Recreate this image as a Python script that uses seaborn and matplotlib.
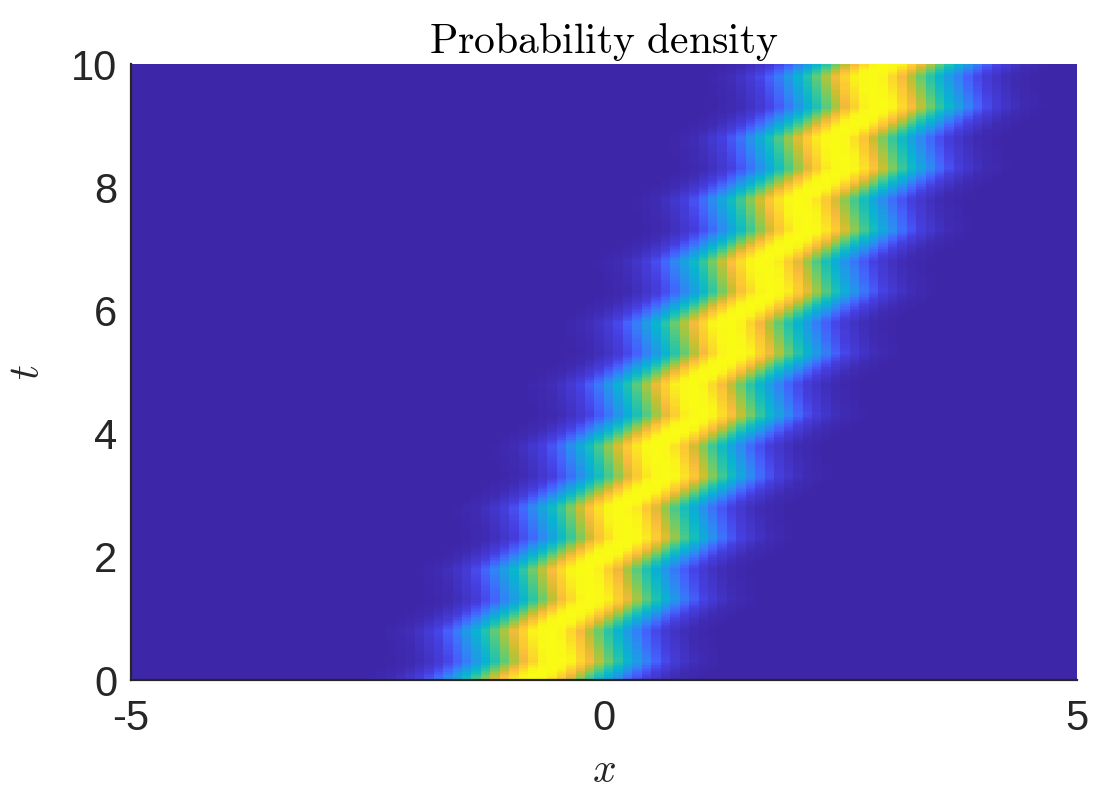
import numpy as np
import pandas as pd
import matplotlib
matplotlib.use("Agg")
import matplotlib.pyplot as plt
from matplotlib.colors import LinearSegmentedColormap
import seaborn as sns

# --- data ---
# grid: 100 columns in x (-5..5), fine steps in t (0..10)
x_min, x_max, n_x = -5.0, 5.0, 100
t_min, t_max, n_t = 0.0, 10.0, 400

# centre of the packet at the corners of the zig-zag path
path_t = [0.0, 0.3, 0.8, 1.3, 1.8, 2.3, 2.8, 3.3, 3.8, 4.3, 4.8,
          5.3, 5.8, 6.3, 6.8, 7.3, 7.8, 8.3, 8.8, 9.3, 9.8, 10.0]
path_x = [-0.78, -0.49, -0.60, -0.11, -0.22, 0.27, 0.16, 0.65, 0.54, 1.03, 0.91,
          1.40, 1.29, 1.78, 1.67, 2.16, 2.05, 2.54, 2.43, 2.92, 2.80, 3.00]

# cross section of the density (relative to colour limit) vs distance from centre
profile_dx = [0.0, 0.15, 0.3, 0.4, 0.5, 0.6, 0.7, 0.8, 0.9, 1.0, 1.1, 1.2, 1.35, 1.5, 1.8]
profile_val = [1.0, 0.99, 0.93, 0.84, 0.72, 0.60, 0.48, 0.37, 0.28, 0.20, 0.14, 0.09, 0.05, 0.02, 0.0]

xticks = [-5, 0, 5]
tticks = [0, 2, 4, 6, 8, 10]

# parula-like colormap
parula = LinearSegmentedColormap.from_list("parula", [
    (0.00, (0.2422, 0.1504, 0.6603)),
    (0.10, (0.2747, 0.2526, 0.8918)),
    (0.17, (0.2692, 0.3778, 0.9899)),
    (0.25, (0.1938, 0.5167, 0.9639)),
    (0.33, (0.1150, 0.6145, 0.8900)),
    (0.42, (0.0340, 0.7000, 0.8200)),
    (0.50, (0.0900, 0.7460, 0.7280)),
    (0.58, (0.2100, 0.7790, 0.6100)),
    (0.67, (0.4100, 0.7980, 0.4300)),
    (0.75, (0.6200, 0.7800, 0.2700)),
    (0.83, (0.8100, 0.7450, 0.1800)),
    (0.89, (0.9700, 0.7300, 0.2400)),
    (0.94, (0.9900, 0.8000, 0.1950)),
    (1.00, (0.9769, 0.9839, 0.0805)),
])

# build the density table
x_cells = x_min + (np.arange(n_x) + 0.5) * (x_max - x_min) / n_x
t_cells = t_min + (np.arange(n_t) + 0.5) * (t_max - t_min) / n_t
centre = np.interp(t_cells, path_t, path_x)
dist = np.abs(x_cells[None, :] - centre[:, None])
dens = np.interp(dist, profile_dx, profile_val)
df = pd.DataFrame(dens, index=np.round(t_cells, 3), columns=np.round(x_cells, 3))

sns.set_theme(style="white")
plt.rcParams["font.family"] = ["Liberation Sans", "DejaVu Sans"]
plt.rcParams["mathtext.fontset"] = "cm"

fig = plt.figure(figsize=(11, 8), dpi=100)
ax = fig.add_axes([0.119, 0.15, 0.86, 0.77])
sns.heatmap(df, ax=ax, cmap=parula, vmin=0, vmax=1, cbar=False,
            xticklabels=False, yticklabels=False, rasterized=True)
ax.invert_yaxis()
ax.set_axisbelow(True)  # image hides the inner ticks, like the original

ax.set_xticks([(v - x_min) / (x_max - x_min) * n_x for v in xticks])
ax.set_xticklabels([str(v) for v in xticks])
ax.set_yticks([(v - t_min) / (t_max - t_min) * n_t for v in tticks])
ax.set_yticklabels([str(v) for v in tticks], rotation=0)

for side in ["left", "bottom"]:
    ax.spines[side].set_visible(True)
    ax.spines[side].set_color("#262626")
    ax.spines[side].set_linewidth(1.6)
for side in ["top", "right"]:
    ax.spines[side].set_visible(False)

ax.tick_params(axis="both", direction="in", length=10, width=2.5, color="#262626",
               labelsize=30, labelcolor="#262626")
ax.tick_params(axis="x", pad=14)
ax.tick_params(axis="y", pad=10)

ax.set_title(r"$\mathrm{Probability\ density}$", fontsize=30, color="black", pad=8)
ax.set_xlabel(r"$x$", fontsize=30, color="#262626", labelpad=8)
ax.set_ylabel(r"$t$", fontsize=30, color="#262626")
ax.yaxis.set_label_coords(-0.088, 0.5)

fig.savefig("out.png", dpi=100)
